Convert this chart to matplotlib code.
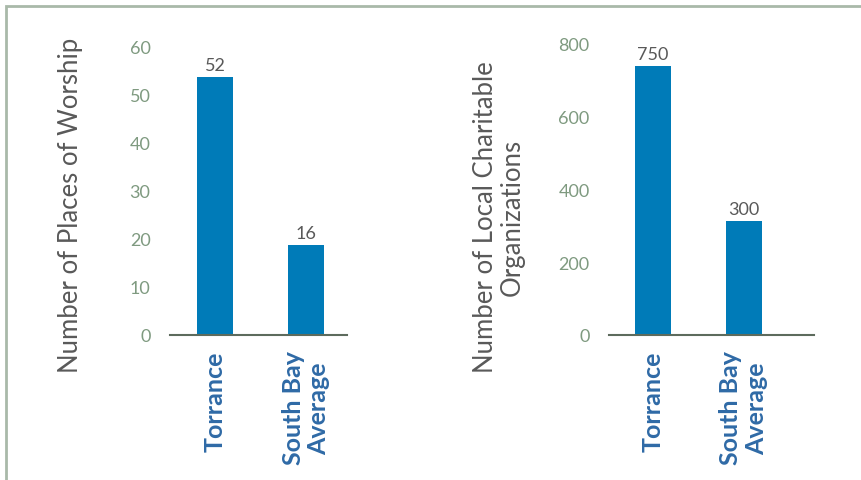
import matplotlib
matplotlib.use("Agg")
import matplotlib.pyplot as plt
from matplotlib.patches import Rectangle

# data
categories = ["Torrance", "South Bay\nAverage"]
worship_heights = [53.7, 18.7]
worship_labels = ["52", "16"]
charity_heights = [740, 313]
charity_labels = ["750", "300"]

bar_color = "#007bb8"
tick_color = "#7f9a80"
text_gray = "#595959"
cat_color = "#2f6aa6"
spine_color = "#5d6b5d"

plt.rcParams["font.family"] = ["Lato", "DejaVu Sans"]

fig = plt.figure(figsize=(8.62, 4.81), dpi=100)

# thin frame round the picture (top and left edges visible)
fig.patches.append(Rectangle((6 / 862, -0.05), 1.1, 1 - 7 / 481 + 0.05,
                             transform=fig.transFigure, fill=False,
                             edgecolor="#a9b9a9", linewidth=2))


def draw(ax, heights, labels, ymax, step, xlim, ylabel, label_xy):
    x = list(range(len(categories)))
    ax.bar(x, heights, width=0.4, color=bar_color, zorder=2)
    for xi, h, lab in zip(x, heights, labels):
        ax.annotate(lab, (xi, h), xytext=(0, 3), textcoords="offset points",
                    ha="center", va="bottom", fontsize=13, color=text_gray)
    ax.set_xlim(*xlim)
    ax.set_ylim(0, ymax)
    ax.set_yticks(range(0, ymax + 1, step))
    ax.set_xticks(x)
    ax.set_xticklabels(categories, rotation=90, fontsize=18, fontweight="bold",
                       color=cat_color, linespacing=1.15)
    ax.tick_params(axis="y", length=0, labelsize=13, labelcolor=tick_color, pad=14)
    ax.tick_params(axis="x", length=0, pad=11)
    for s in ["top", "right", "left"]:
        ax.spines[s].set_visible(False)
    ax.spines["bottom"].set_color(spine_color)
    ax.spines["bottom"].set_linewidth(1.5)
    ax.set_ylabel(ylabel, fontsize=18.5, color=text_gray, linespacing=1.1)
    ax.yaxis.set_label_coords(*label_xy)


ax1 = fig.add_axes([170 / 862, 1 - 336 / 481, 177 / 862, 288 / 481])
draw(ax1, worship_heights, worship_labels, 60, 10, (-0.495, 1.45),
     "Number of Places of Worship", (-0.49, 0.453))

ax2 = fig.add_axes([609 / 862, 1 - 336 / 481, 205 / 862, 291 / 481])
draw(ax2, charity_heights, charity_labels, 800, 200, (-0.48, 1.77),
     "Number of Local Charitable\nOrganizations", (-0.41, 0.407))

fig.savefig("out.png", dpi=100)
